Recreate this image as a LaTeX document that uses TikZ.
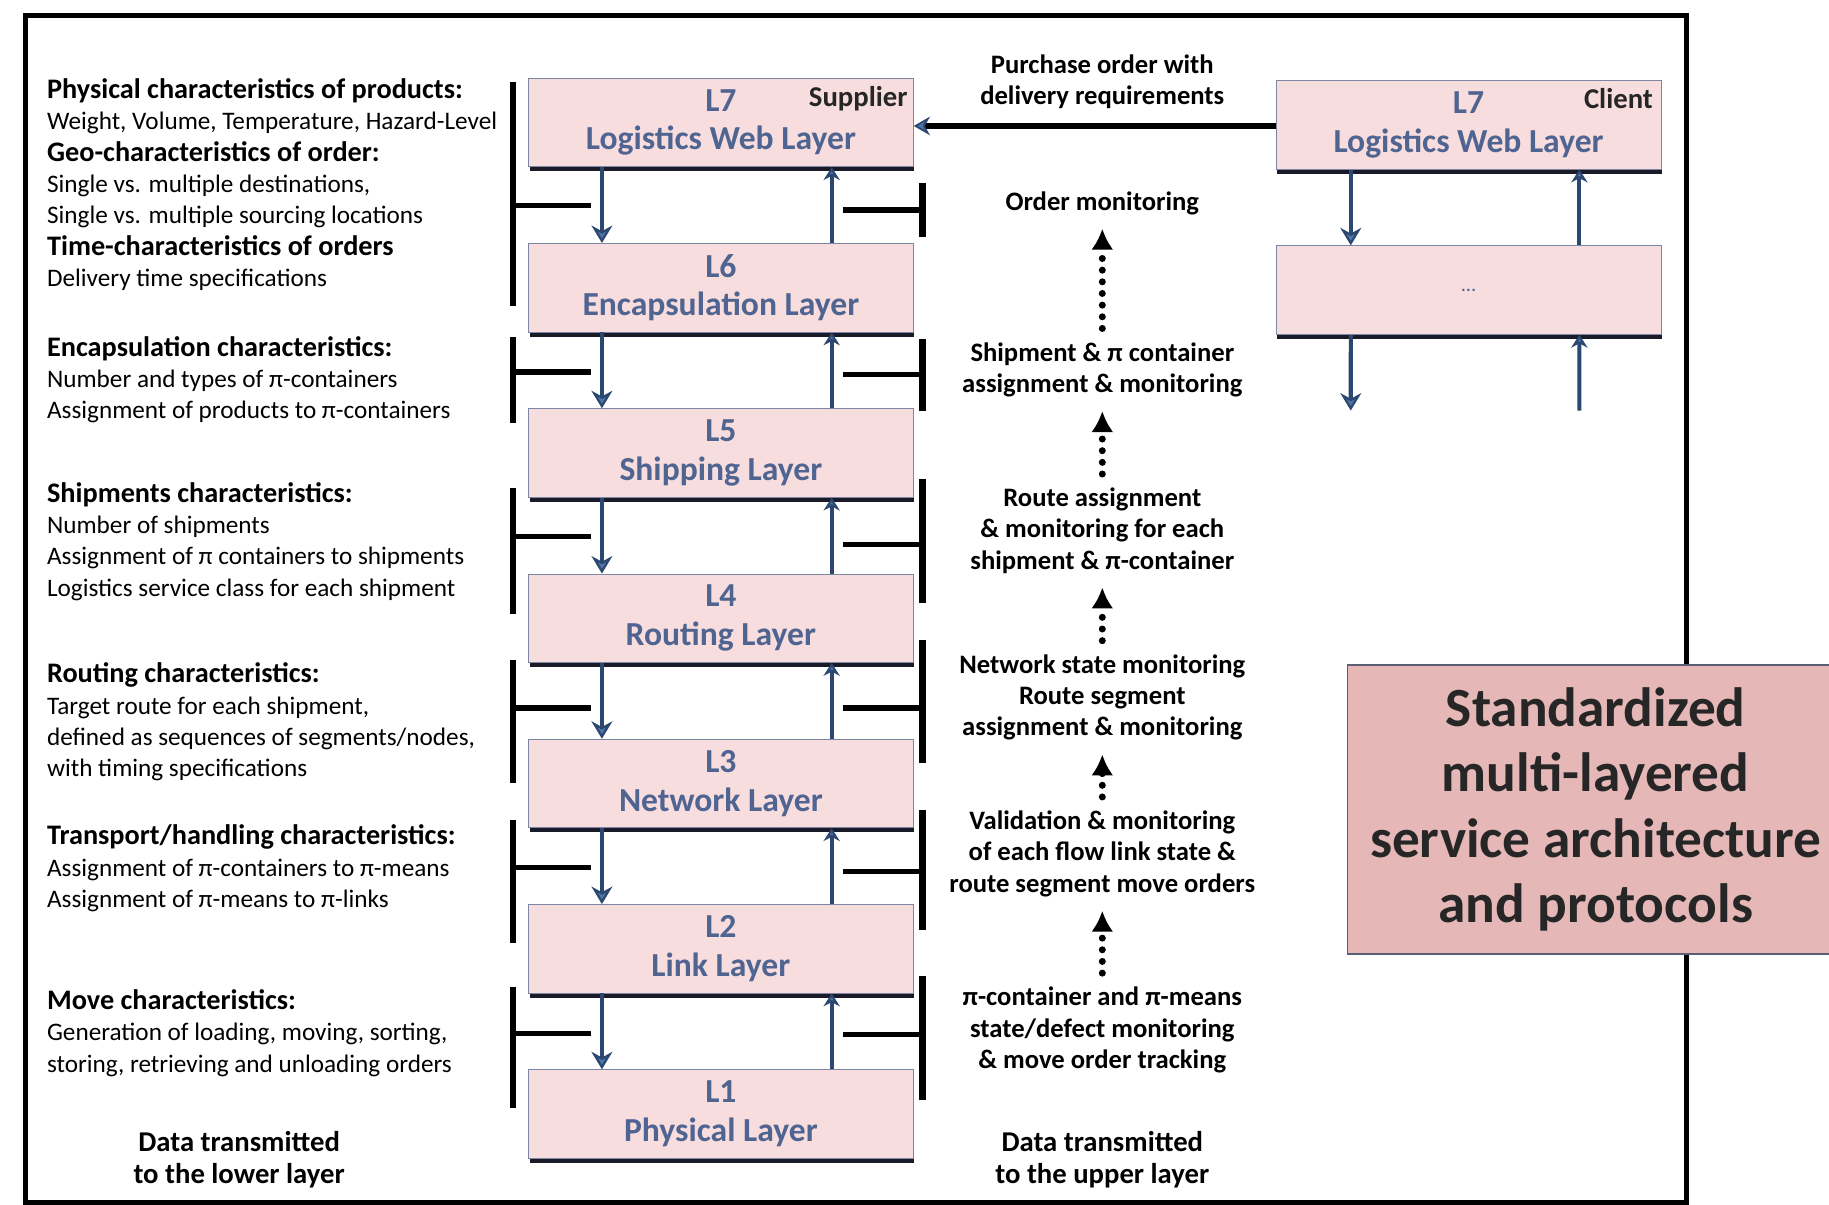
\documentclass[tikz,border=0pt]{standalone}
\usepackage{fontspec}
\setmainfont{Carlito}
\usepackage{xcolor}
\usepackage{tikz}
\usetikzlibrary{arrows.meta, positioning, shadows}
\definecolor{layerpink}{RGB}{247, 221, 221}
\definecolor{layeredge}{RGB}{125, 135, 165}
\definecolor{layerblue}{RGB}{80, 100, 145}
\definecolor{shadowdark}{RGB}{25, 28, 40}
\definecolor{arrowblue}{RGB}{44, 72, 112}
\definecolor{arrowfill}{RGB}{79, 120, 170}
\definecolor{stdpink}{RGB}{229, 184, 183}
\definecolor{stdedge}{RGB}{90, 95, 115}
\newcommand{\charhead}[1]{{\fontsize{13.8}{15.3}\selectfont\bfseries #1}}

\begin{document}
\begin{tikzpicture}[
    x=0.02cm, y=-0.02cm,
    layerbox/.style={
        rectangle, draw=layeredge, fill=layerpink, thin,
        minimum width=6.6cm, minimum height=1.52cm, inner sep=1pt, align=center,
        text=layerblue, font=\fontsize{16.4}{18.9}\selectfont\bfseries,
        drop shadow={shadow xshift=0.02cm, shadow yshift=-0.08cm, fill=shadowdark, opacity=1}
    },
    tagtext/.style={inner sep=0pt, text=black!85, font=\fontsize{14}{16}\selectfont\bfseries},
    charlist/.style={anchor=north west, inner sep=0pt, align=left, font=\fontsize{12.3}{15.3}\selectfont},
    flowtext/.style={align=center, inner sep=1pt, font=\fontsize{13}{15.2}\selectfont\bfseries},
    datatext/.style={align=center, inner sep=1pt, font=\fontsize{14}{15.6}\selectfont\bfseries},
    stdbox/.style={
        rectangle, draw=stdedge, fill=stdpink, thick,
        minimum width=8.52cm, minimum height=4.96cm, align=center,
        text=black!85, font=\fontsize{27}{32}\selectfont\bfseries
    },
    frameline/.style={line width=0.09cm, black},
    barline/.style={line width=0.11cm, black},
    tickline/.style={line width=0.09cm, black},
    downarrow/.style={draw=arrowblue, line width=0.07cm,
        -{Stealth[length=0.3cm, width=0.36cm, line width=1.1pt, fill=arrowfill]}},
    uparrow/.style={draw=arrowblue, line width=0.07cm,
        -{Stealth[length=0.22cm, width=0.28cm, line width=1pt, fill=arrowfill]}},
    orderarrow/.style={black, line width=0.09cm,
        -{Stealth[length=0.28cm, width=0.32cm, line width=0.9pt, color=arrowblue, fill=arrowfill]}},
    dotarrow/.style={black, line width=0.12cm, dash pattern=on 0pt off 0.2cm, line cap=round,
        -{Latex[length=0.36cm, width=0.38cm]}, shorten <=0.2cm, shorten >=0.2cm}
]
    \useasboundingbox (0,0) rectangle (1568,1033);
    \draw [frameline] (22,13) rectangle (1446,1031);

    % supplier stack
    \node [layerbox] (l7) at (618,105) {L7\\Logistics Web Layer};
    \node [layerbox, below=1.3cm of l7] (l6) {L6\\Encapsulation Layer};
    \node [layerbox, below=1.3cm of l6] (l5) {L5\\Shipping Layer};
    \node [layerbox, below=1.3cm of l5] (l4) {L4\\Routing Layer};
    \node [layerbox, below=1.3cm of l4] (l3) {L3\\Network Layer};
    \node [layerbox, below=1.3cm of l3] (l2) {L2\\Link Layer};
    \node [layerbox, below=1.3cm of l2] (l1) {L1\\Physical Layer};
    \node [tagtext, below left=0.14cm and 0.1cm of l7.north east] (suptag) {Supplier};

    % client stack
    \node [layerbox] (cl7) at (1259,107) {L7\\Logistics Web Layer};
    \node [layerbox, below=1.3cm of cl7, font=\fontsize{10}{12}\selectfont] (cdots) {...};
    \node [tagtext, below left=0.14cm and 0.14cm of cl7.north east] (clitag) {Client};
    \coordinate (cdown) at (1158,352);
    \coordinate (cup) at (1354,352);

    \node [stdbox] (stdarch) at (1368,694) {Standardized\\multi-layered\\service architecture\\and protocols};

    % left column
    \node [charlist] (physchar) at (40,67) {\charhead{Physical characteristics of products:}\\
        Weight, Volume, Temperature, Hazard-Level\\
        \charhead{Geo-characteristics of order:}\\
        Single vs. multiple destinations,\\
        Single vs. multiple sourcing locations\\
        \charhead{Time-characteristics of orders}\\
        Delivery time specifications};
    \node [charlist] (encchar) at (40,288) {\charhead{Encapsulation characteristics:}\\
        Number and types of π-containers\\
        Assignment of products to π-containers};
    \node [charlist] (shipchar) at (40,413) {\charhead{Shipments characteristics:}\\
        Number of shipments\\
        Assignment of π containers to shipments\\
        Logistics service class for each shipment};
    \node [charlist] (routechar) at (40,568) {\charhead{Routing characteristics:}\\
        Target route for each shipment,\\
        defined as sequences of segments/nodes,\\
        with timing specifications};
    \node [charlist] (transchar) at (40,707) {\charhead{Transport/handling characteristics:}\\
        Assignment of π-containers to π-means\\
        Assignment of π-means to π-links};
    \node [charlist] (movechar) at (40,848) {\charhead{Move characteristics:}\\
        Generation of loading, moving, sorting,\\
        storing, retrieving and unloading orders};
    \node [datatext] (lowerdata) at (205,994) {Data transmitted\\to the lower layer};

    % middle column
    \node [flowtext] (purchase) at (945,70) {Purchase order with\\delivery requirements};
    \node [flowtext] (ordermon) at (945,174) {Order monitoring};
    \node [flowtext] (shipmon) at (945,317) {Shipment \& π container\\assignment \& monitoring};
    \node [flowtext] (routemon) at (945,455) {Route assignment\\\& monitoring for each\\shipment \& π-container};
    \node [flowtext] (netmon) at (945,598) {Network state monitoring\\Route segment\\assignment \& monitoring};
    \node [flowtext] (linkmon) at (945,732) {Validation \& monitoring\\of each flow link state \&\\route segment move orders};
    \node [flowtext] (physmon) at (945,883) {π-container and π-means\\state/defect monitoring\\\& move order tracking};
    \node [datatext] (upperdata) at (945,994) {Data transmitted\\to the upper layer};

    % brackets
    \draw [barline] (440,70) -- (440,262);  \draw [tickline] (440,176) -- (507,176);
    \draw [barline] (440,289) -- (440,363); \draw [tickline] (440,319) -- (507,319);
    \draw [barline] (440,418) -- (440,526); \draw [tickline] (440,460) -- (507,460);
    \draw [barline] (440,566) -- (440,671); \draw [tickline] (440,607) -- (507,607);
    \draw [barline] (440,703) -- (440,808); \draw [tickline] (440,744) -- (507,744);
    \draw [barline] (440,846) -- (440,950); \draw [tickline] (440,886) -- (507,886);
    \draw [barline] (791,157) -- (791,203); \draw [tickline] (723,180) -- (791,180);
    \draw [barline] (791,291) -- (791,352); \draw [tickline] (723,321) -- (791,321);
    \draw [barline] (791,411) -- (791,517); \draw [tickline] (723,467) -- (791,467);
    \draw [barline] (791,549) -- (791,654); \draw [tickline] (723,607) -- (791,607);
    \draw [barline] (791,694) -- (791,797); \draw [tickline] (723,747) -- (791,747);
    \draw [barline] (791,837) -- (791,943); \draw [tickline] (723,887) -- (791,887);

    % layer to layer
    \draw [downarrow] ([xshift=-2.04cm]l7.south) -- ([xshift=-2.04cm]l6.north);
    \draw [downarrow] ([xshift=-2.04cm]l6.south) -- ([xshift=-2.04cm]l5.north);
    \draw [downarrow] ([xshift=-2.04cm]l5.south) -- ([xshift=-2.04cm]l4.north);
    \draw [downarrow] ([xshift=-2.04cm]l4.south) -- ([xshift=-2.04cm]l3.north);
    \draw [downarrow] ([xshift=-2.04cm]l3.south) -- ([xshift=-2.04cm]l2.north);
    \draw [downarrow] ([xshift=-2.04cm]l2.south) -- ([xshift=-2.04cm]l1.north);
    \draw [uparrow] ([xshift=1.9cm]l6.north) -- ([xshift=1.9cm]l7.south);
    \draw [uparrow] ([xshift=1.9cm]l5.north) -- ([xshift=1.9cm]l6.south);
    \draw [uparrow] ([xshift=1.9cm]l4.north) -- ([xshift=1.9cm]l5.south);
    \draw [uparrow] ([xshift=1.9cm]l3.north) -- ([xshift=1.9cm]l4.south);
    \draw [uparrow] ([xshift=1.9cm]l2.north) -- ([xshift=1.9cm]l3.south);
    \draw [uparrow] ([xshift=1.9cm]l1.north) -- ([xshift=1.9cm]l2.south);

    \draw [downarrow] ([xshift=-2.02cm]cl7.south) -- ([xshift=-2.02cm]cdots.north);
    \draw [uparrow] ([xshift=1.9cm]cdots.north) -- ([xshift=1.9cm]cl7.south);
    \draw [downarrow] ([xshift=-2.02cm]cdots.south) -- (cdown);
    \draw [uparrow] (cup) -- ([xshift=1.9cm]cdots.south);

    \draw [orderarrow] (cl7.west |- 0,108) -- (l7.east |- 0,108);

    \draw [dotarrow] (shipmon) -- (ordermon);
    \draw [dotarrow] (routemon) -- (shipmon);
    \draw [dotarrow] (netmon) -- (routemon);
    \draw [dotarrow] (linkmon) -- (netmon);
    \draw [dotarrow] (physmon) -- (linkmon);
\end{tikzpicture}
\end{document}
